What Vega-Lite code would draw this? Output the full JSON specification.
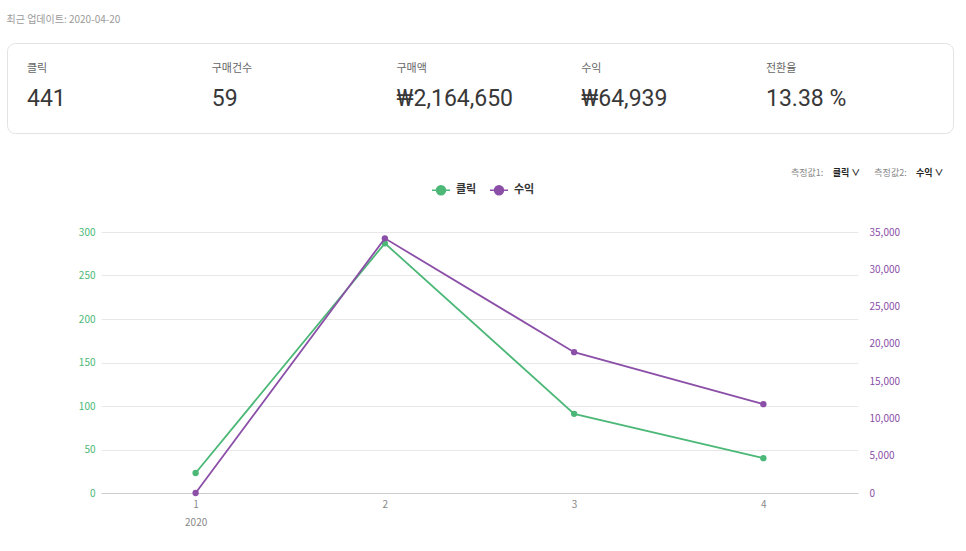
{
  "$schema": "https://vega.github.io/schema/vega-lite/v6.json",
  "background": "white",
  "padding": {"left": 6, "top": 14, "right": 14, "bottom": 4},
  "title": {
    "text": "최근 업데이트: 2020-04-20",
    "anchor": "start",
    "fontSize": 10,
    "fontWeight": "normal",
    "color": "#9a9a9a",
    "offset": 18
  },
  "spacing": 2,
  "resolve": {"legend": {"color": "independent"}},
  "config": {
    "font": "Noto Sans CJK KR",
    "view": {"stroke": null}
  },
  "vconcat": [
    {
      "width": 946,
      "height": 90,
      "view": {"stroke": "#e3e3e3", "strokeWidth": 1, "cornerRadius": 8},
      "data": {
        "values": [
          {"metric": "클릭", "value": "441"},
          {"metric": "구매건수", "value": "59"},
          {"metric": "구매액", "value": "₩2,164,650"},
          {"metric": "수익", "value": "₩64,939"},
          {"metric": "전환율", "value": "13.38 %"}
        ]
      },
      "encoding": {
        "x": {
          "field": "metric",
          "type": "nominal",
          "sort": null,
          "axis": null,
          "scale": {"type": "point", "padding": 0, "range": [20, 759]}
        }
      },
      "layer": [
        {
          "mark": {"type": "text", "align": "left", "baseline": "middle", "fontSize": 11, "color": "#666666", "dy": -19},
          "encoding": {"text": {"field": "metric"}}
        },
        {
          "mark": {"type": "text", "align": "left", "baseline": "middle", "fontSize": 23, "font": "Roboto", "color": "#383838", "dy": 11},
          "encoding": {"text": {"field": "value"}}
        }
      ]
    },
    {
      "width": 946,
      "height": 35,
      "data": {
        "values": [
          {"item": "측정값1:", "kind": "label"},
          {"item": "클릭 ∨", "kind": "selected"},
          {"item": "측정값2:", "kind": "label"},
          {"item": "수익 ∨", "kind": "selected"}
        ]
      },
      "encoding": {
        "x": {
          "field": "item",
          "type": "nominal",
          "axis": null,
          "scale": {
            "type": "point",
            "padding": 0,
            "domain": ["측정값1:", "클릭 ∨", "측정값2:", "수익 ∨"],
            "range": [784, 909]
          }
        },
        "text": {"field": "item"}
      },
      "layer": [
        {
          "transform": [{"filter": "datum.kind === 'label'"}],
          "mark": {"type": "text", "align": "left", "baseline": "middle", "fontSize": 9, "color": "#888888", "dy": 19.5}
        },
        {
          "transform": [{"filter": "datum.kind === 'selected'"}],
          "mark": {"type": "text", "align": "left", "baseline": "middle", "fontSize": 9, "fontWeight": "bold", "color": "#222222", "dy": 19.5}
        }
      ]
    },
    {
      "spacing": 0,
      "resolve": {"legend": {"color": "independent"}},
      "hconcat": [
        {
          "width": 1,
          "height": 1,
          "data": {"values": []},
          "mark": {"type": "point", "opacity": 0},
          "encoding": {}
        },
        {
          "width": 757,
          "height": 261,
          "data": {
            "values": [
              {"month": 1, "measure": "클릭", "value": 23},
              {"month": 2, "measure": "클릭", "value": 287},
              {"month": 3, "measure": "클릭", "value": 91},
              {"month": 4, "measure": "클릭", "value": 40},
              {"month": 1, "measure": "수익", "value": 0},
              {"month": 2, "measure": "수익", "value": 34150},
              {"month": 3, "measure": "수익", "value": 18880},
              {"month": 4, "measure": "수익", "value": 11909}
            ]
          },
          "encoding": {
            "x": {
              "field": "month",
              "type": "ordinal",
              "scale": {"type": "point", "padding": 0.5},
              "axis": {
                "title": null,
                "labelAngle": 0,
                "labelExpr": "datum.label == '1' ? ['1', '2020'] : datum.label",
                "labelLineHeight": 18,
                "labelFontSize": 10,
                "labelColor": "#888888",
                "labelPadding": 6,
                "ticks": false,
                "domainColor": "#cccccc",
                "grid": false
              }
            },
            "color": {
              "field": "measure",
              "type": "nominal",
              "scale": {"domain": ["클릭", "수익"], "range": ["#4cb877", "#8b4fa8"]},
              "legend": {
                "orient": "none",
                "legendX": 330,
                "legendY": -52,
                "direction": "horizontal",
                "title": null,
                "labelFontSize": 11,
                "labelFontWeight": "bold",
                "labelColor": "#333333",
                "labelOffset": 5,
                "columnPadding": 10,
                "symbolType": "M-1,0H1M-0.5,0A0.5,0.5,0,1,1,0.5,0A0.5,0.5,0,1,1,-0.5,0",
                "symbolSize": 324,
                "symbolStrokeWidth": 1.5,
                "encode": {
                  "symbols": {
                    "update": {
                      "fill": {"scale": "color", "field": "value"},
                      "stroke": {"scale": "color", "field": "value"},
                      "fillOpacity": {"value": 1}
                    }
                  }
                }
              }
            }
          },
          "layer": [
            {
              "transform": [{"filter": "datum.measure === '클릭'"}],
              "mark": {"type": "line", "strokeWidth": 1.8, "point": {"filled": true, "size": 40}},
              "encoding": {
                "y": {
                  "field": "value",
                  "type": "quantitative",
                  "scale": {"domain": [0, 300], "nice": false},
                  "axis": {
                    "orient": "left",
                    "title": null,
                    "values": [0, 50, 100, 150, 200, 250, 300],
                    "labelColor": "#4cb877",
                    "labelFontSize": 10,
                    "labelPadding": 6,
                    "ticks": false,
                    "domain": false,
                    "gridColor": "#e8e8e8",
                    "minExtent": 93
                  }
                }
              }
            },
            {
              "transform": [{"filter": "datum.measure === '수익'"}],
              "mark": {"type": "line", "strokeWidth": 1.8, "point": {"filled": true, "size": 40}},
              "encoding": {
                "y": {
                  "field": "value",
                  "type": "quantitative",
                  "scale": {"domain": [0, 35000], "nice": false},
                  "axis": {
                    "orient": "right",
                    "title": null,
                    "values": [0, 5000, 10000, 15000, 20000, 25000, 30000, 35000],
                    "format": ",d",
                    "labelColor": "#8b4fa8",
                    "labelFontSize": 10,
                    "labelPadding": 11,
                    "ticks": false,
                    "domain": false,
                    "gridColor": "#e8e8e8"
                  }
                }
              }
            }
          ],
          "resolve": {"scale": {"y": "independent"}}
        }
      ]
    }
  ]
}
